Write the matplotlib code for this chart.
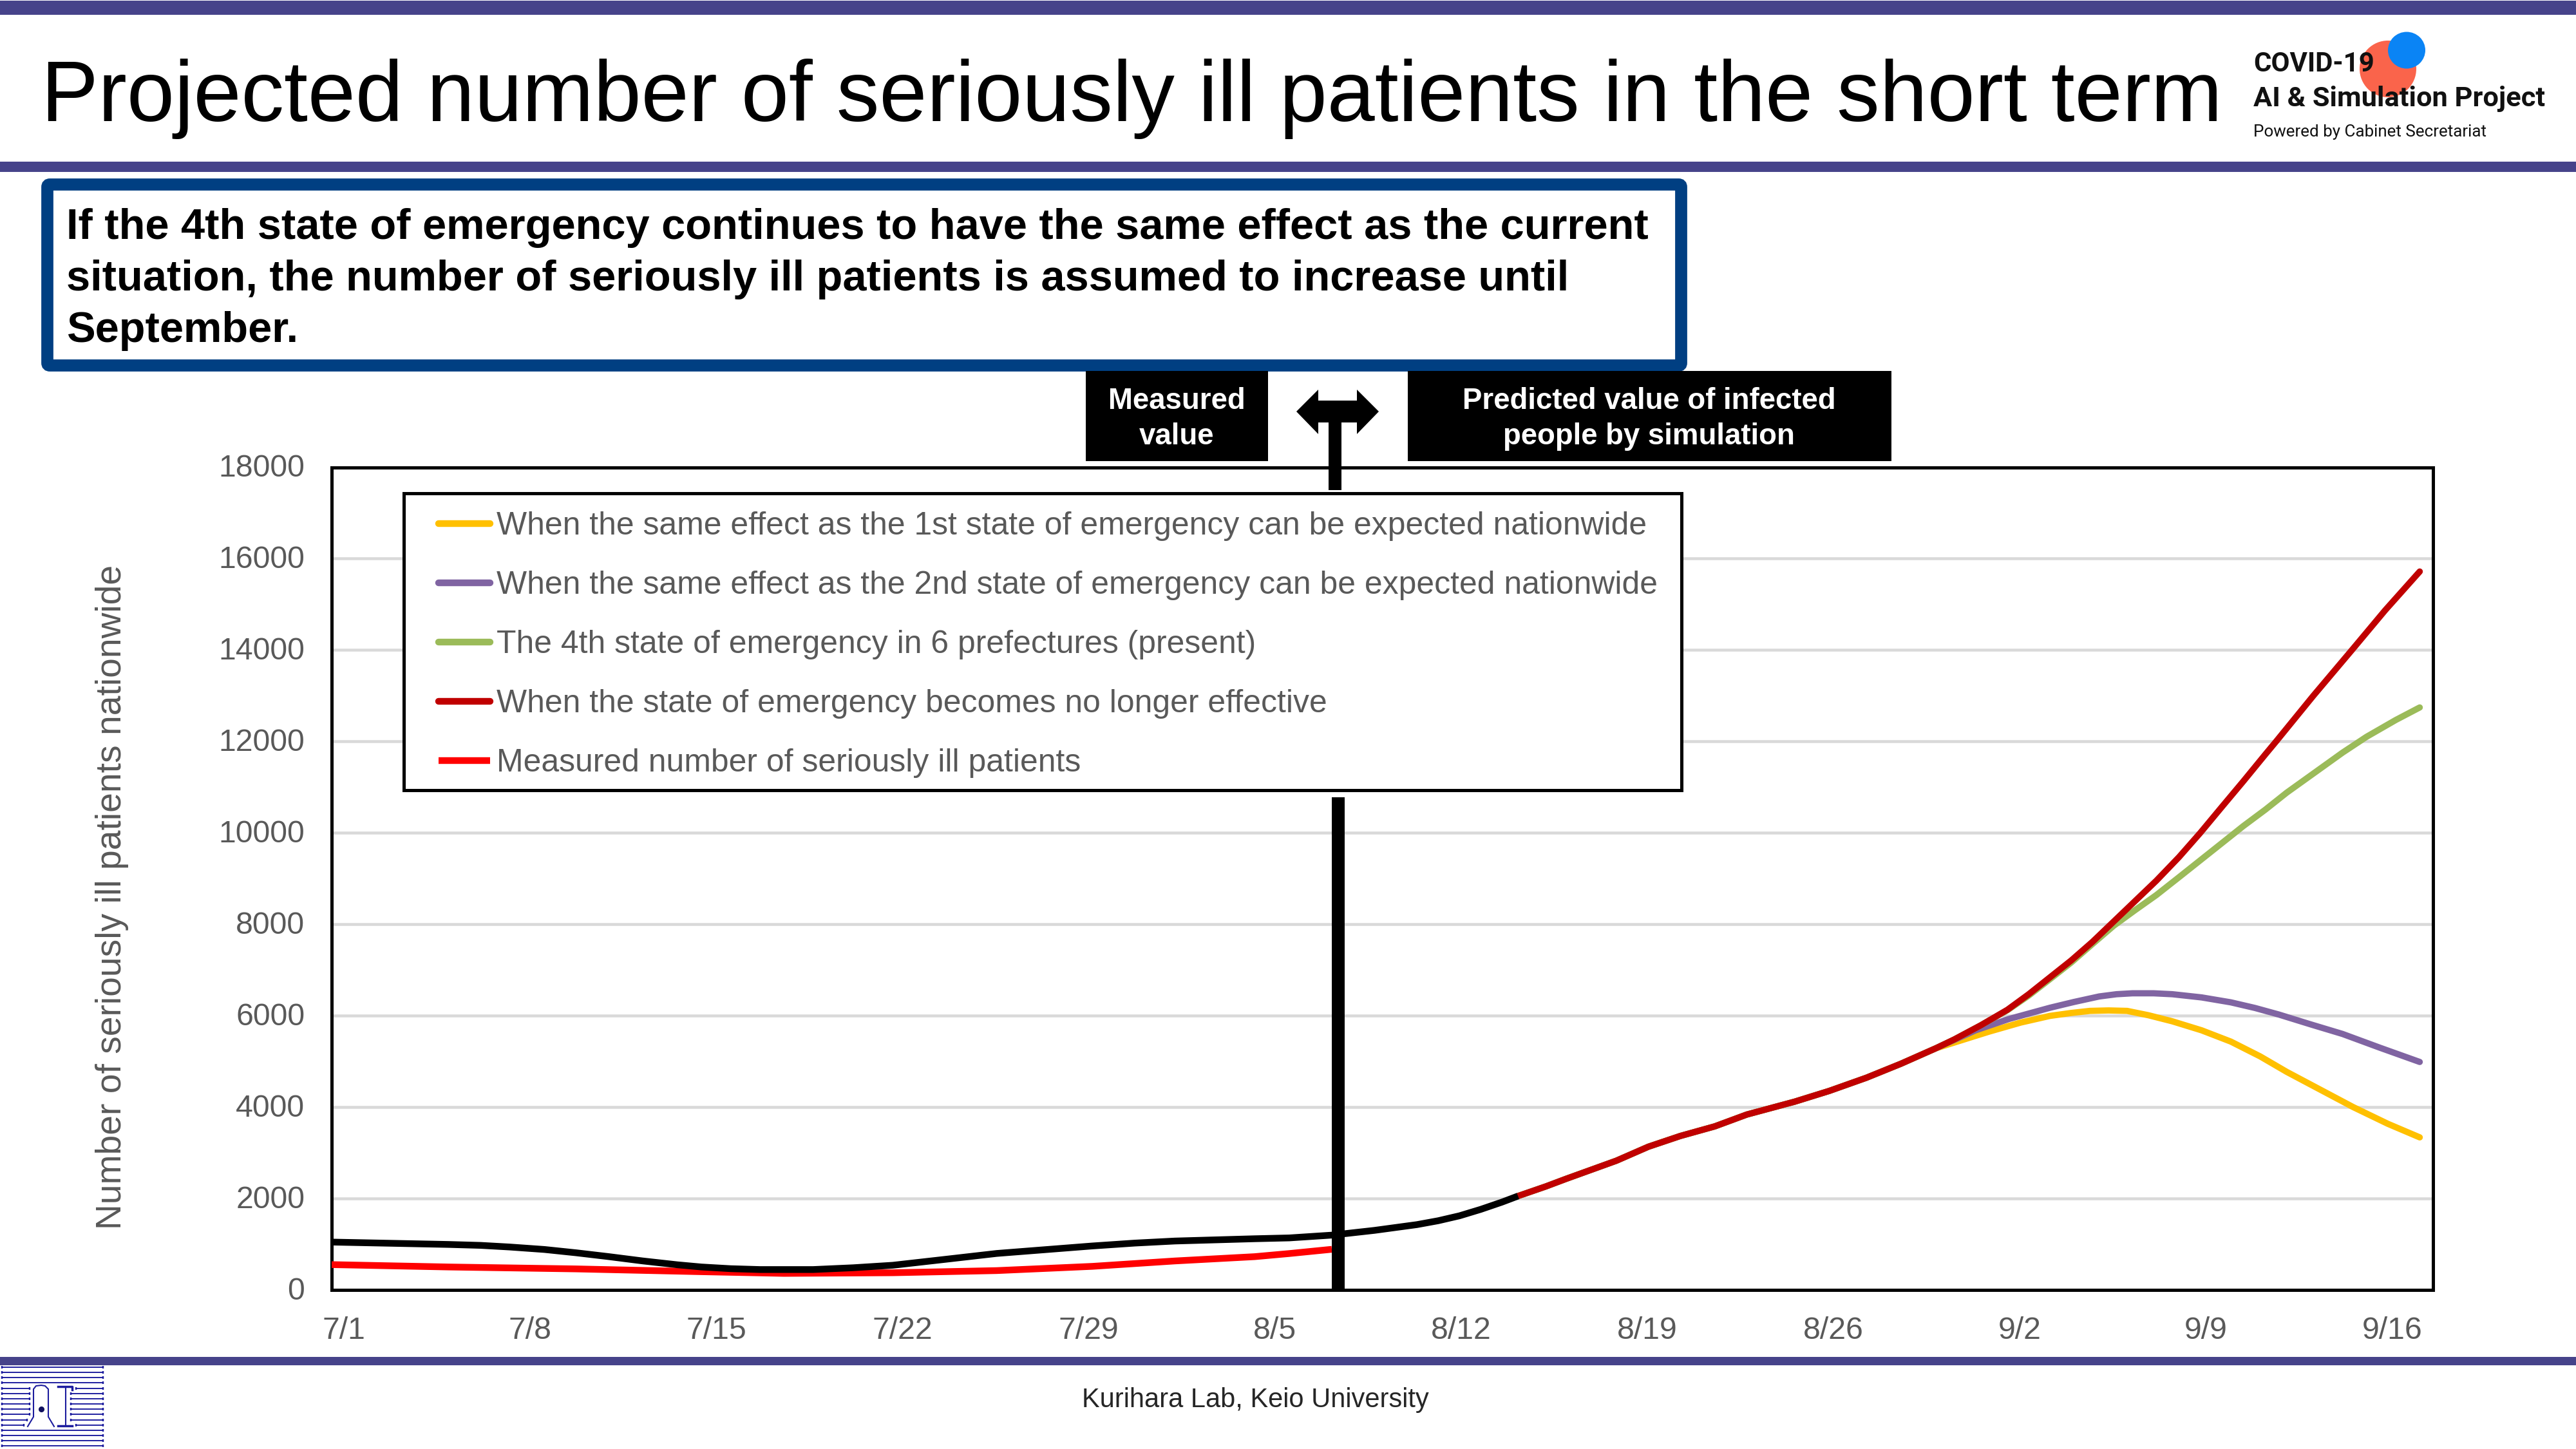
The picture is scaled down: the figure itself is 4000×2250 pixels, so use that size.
import matplotlib
matplotlib.use('Agg')
import matplotlib.pyplot as plt
from matplotlib.patches import Rectangle, Polygon, Ellipse, FancyBboxPatch
from matplotlib.transforms import ScaledTranslation

plt.rcParams['font.family'] = ['Liberation Sans', 'DejaVu Sans']

W, H = 4000, 2250
GRAY = '#595959'
BAR = '#46438A'
BOX = '#003F82'

title = 'Projected number of seriously ill patients in the short term'
summary = ['If the 4th state of emergency continues to have the same effect as the current',
           'situation, the number of seriously ill patients is assumed to increase until',
           'September.']
ylabel = 'Number of seriously ill patients nationwide'
footer = 'Kurihara Lab, Keio University'

# days counted from 7/1
tick_days = [0, 7, 14, 21, 28, 35, 42, 49, 56, 63, 70, 77]
tick_labels = ['7/1', '7/8', '7/15', '7/22', '7/29', '8/5', '8/12', '8/19', '8/26', '9/2', '9/9', '9/16']
y_ticks = [0, 2000, 4000, 6000, 8000, 10000, 12000, 14000, 16000, 18000]

labels = ['When the same effect as the 1st state of emergency can be expected nationwide',
          'When the same effect as the 2nd state of emergency can be expected nationwide',
          'The 4th state of emergency in 6 prefectures (present)',
          'When the state of emergency becomes no longer effective',
          'Measured number of seriously ill patients']

# measured
measured_days = [0, 4.4, 9.2, 13.9, 17, 21.1, 25, 28.6, 31.7, 34.7, 36, 37.6]
measured_vals = [554, 502, 460, 399, 362, 376, 423, 516, 634, 728, 796, 889]

# simulated, before the scenarios split
past_days = [0, 4.4, 5.6, 6.7, 8, 9.2, 10.4, 11.7, 13, 13.9, 15, 16.1, 18.1, 19.6, 21.1, 23, 25, 26.8, 28.6,
             30.2, 31.7, 34.7, 36, 37.6, 39.2, 40.8, 41.6, 42.4, 43.2, 44, 44.6]
past_vals = [1047, 995, 975, 939, 885, 812, 730, 634, 550, 502, 465, 446, 446, 485, 540, 665, 798, 880, 962,
             1025, 1070, 1120, 1138, 1199, 1303, 1429, 1514, 1622, 1763, 1922, 2054]

# shared part of all four scenarios
base_days = [44.6, 45.65, 46.4, 48.3, 49.5, 50.7, 52, 53.2, 55, 56.3, 57.7, 59, 60.3]
base_vals = [2054, 2265, 2429, 2828, 3133, 3368, 3579, 3837, 4119, 4354, 4643, 4950, 5285]

first_days = [62.3, 63.5, 64.6, 65.4, 66.1, 66.8, 67.5, 68.3, 69.2, 70.3, 71.4, 72.5, 73.5, 74.8, 76, 77.3, 78.5]
first_vals = [5650, 5850, 5996, 6060, 6105, 6115, 6105, 6010, 5877, 5680, 5433, 5110, 4771, 4370, 4000, 3635, 3338]

second_days = [61.8, 63.05, 64.6, 65.5, 66.45, 67.1, 67.7, 68.5, 69.2, 70.3, 71.4, 72.3, 73.2, 74.4, 75.6, 77, 78.5]
second_vals = [5680, 5927, 6174, 6300, 6421, 6470, 6490, 6490, 6470, 6400, 6292, 6170, 6026, 5810, 5600, 5300, 4988]

fourth_days = [61, 62, 63, 63.8, 64.6, 65.4, 66.2, 67, 67.8, 68.6, 69.45, 70.25, 71.05, 71.87, 72.7, 73.5, 75.6, 76.5, 77.6, 78.5]
fourth_vals = [5480, 5790, 6120, 6440, 6800, 7165, 7570, 7970, 8310, 8640, 9030, 9400, 9770, 10150, 10510, 10880, 11756, 12102, 12470, 12744]

none_days = [61, 62, 63, 63.8, 64.6, 65.4, 66.2, 67, 67.8, 68.6, 69.45, 70.25, 71.05, 71.87, 72.7, 73.1, 74.5, 75.95, 77.2, 78.5]
none_vals = [5480, 5790, 6130, 6470, 6840, 7210, 7617, 8063, 8509, 8955, 9470, 10000, 10560, 11130, 11720, 12000, 13000, 14000, 14870, 15718]

fig = plt.figure(figsize=(16, 9), dpi=250, facecolor='white')

#-------------------------------------------------------------------chart
ax = fig.add_axes([515 / W, 1 - 2003 / H, 3263 / W, 1277.5 / H])
ax.set_xlim(0, 79)
ax.set_ylim(0, 18000)

line_kw = dict(lw=2.8, solid_capstyle='round', solid_joinstyle='round')
l1, = ax.plot(base_days + first_days, base_vals + first_vals, color='#FFC000', label=labels[0], zorder=3, **line_kw)
l2, = ax.plot(base_days + second_days, base_vals + second_vals, color='#8064A2', label=labels[1], zorder=4, **line_kw)
l3, = ax.plot(base_days + fourth_days, base_vals + fourth_vals, color='#9BBB59', label=labels[2], zorder=5, **line_kw)
l4, = ax.plot(base_days + none_days, base_vals + none_vals, color='#C00000', label=labels[3], zorder=6, **line_kw)
l5, = ax.plot(measured_days, measured_vals, color='#FF0000', lw=3.0, label=labels[4], zorder=7,
              solid_capstyle='butt', solid_joinstyle='round')
ax.plot(past_days, past_vals, color='black', lw=3.0, zorder=8, solid_capstyle='butt', solid_joinstyle='round')

ax.set_xticks([d + 0.46 for d in tick_days])
ax.set_xticklabels(tick_labels)
ax.set_yticks(y_ticks)
ax.tick_params(axis='both', length=0, labelsize=13.9, labelcolor=GRAY)
ax.tick_params(axis='y', pad=12)
ax.tick_params(axis='x', pad=11.8)
up = ScaledTranslation(0, 3 / 250, fig.dpi_scale_trans)
for lab in ax.get_yticklabels():
    lab.set_transform(lab.get_transform() + up)
ax.grid(axis='y', color='#D9D9D9', lw=1.3, zorder=1)
ax.set_axisbelow(True)
for s in ax.spines.values():
    s.set_linewidth(1.45)
    s.set_color('black')

# legend frame is drawn on its own so the padding can differ per side
ax.add_patch(Rectangle((627 / W, 1 - 1227 / H), (2611 - 627) / W, (1227 - 766) / H, transform=fig.transFigure,
                       fc='white', ec='black', lw=1.45, zorder=19, clip_on=False))
leg = ax.legend(handles=[l1, l2, l3, l4, l5], loc='upper left',
                bbox_to_anchor=((681 - 515) / 3263, 1 - (794.5 - 725.5) / 1277.5),
                borderaxespad=0, borderpad=0, fontsize=14.37, labelcolor=GRAY, frameon=False,
                handlelength=1.6, handletextpad=0.2, labelspacing=0.92)
leg.set_zorder(20)
for h in leg.get_lines():
    h.set_linewidth(3.0)

#--------------------------------------------------------decoration layer
deco = fig.add_axes([0, 0, 1, 1], facecolor='none')
deco.set_xlim(0, W)
deco.set_ylim(H, 0)
deco.axis('off')

deco.add_patch(Rectangle((0, 1), W, 22, color=BAR, lw=0))
deco.add_patch(Rectangle((0, 251), W, 16, color=BAR, lw=0))
deco.add_patch(Rectangle((0, 2107), W, 13, color=BAR, lw=0))

deco.text(64, 188, title, fontsize=38.3, color='black', va='baseline', ha='left')

# logo top right
deco.add_patch(Ellipse((3708, 107), 88, 88, color='#FA644B', lw=0))
deco.add_patch(Ellipse((3737, 78), 58, 57, color='#0A84F5', lw=0))
deco.text(3499, 111, 'COVID-19', family='Roboto', weight='bold', fontsize=12.1, color='#111111', va='baseline')
deco.text(3499, 165, 'AI & Simulation Project', family='Roboto', weight='bold', fontsize=12.5, color='#111111', va='baseline')
deco.text(3499, 212, 'Powered by Cabinet Secretariat', family='Roboto', fontsize=7.5, color='#111111', va='baseline')

# summary box
deco.add_patch(FancyBboxPatch((73.5, 286.5), 2537, 281, boxstyle='round,pad=0,rounding_size=4',
                              fc='white', ec=BOX, lw=5.4))
for i, line in enumerate(summary):
    deco.text(103, 371 + 80 * i, line, fontsize=19.22, weight='bold', color='black', va='baseline')

# measured / predicted tags
deco.add_patch(Rectangle((1686, 576), 283, 140, color='black', lw=0))
deco.add_patch(Rectangle((2186, 576), 751, 140, color='black', lw=0))
deco.text(1827, 635, 'Measured', color='white', weight='bold', fontsize=13.15, ha='center', va='baseline')
deco.text(1827, 690, 'value', color='white', weight='bold', fontsize=13.15, ha='center', va='baseline')
deco.text(2561, 635, 'Predicted value of infected', color='white', weight='bold', fontsize=13.15, ha='center', va='baseline')
deco.text(2561, 690, 'people by simulation', color='white', weight='bold', fontsize=13.15, ha='center', va='baseline')

# double arrow and the measured/predicted divider
deco.add_patch(Polygon([(2013, 639), (2047, 605), (2047, 622), (2107, 622), (2107, 605), (2141, 639),
                        (2107, 674), (2107, 656), (2047, 656), (2047, 674)], closed=True, color='black', lw=0))
deco.add_patch(Rectangle((2063, 650), 20, 111, color='black', lw=0))
deco.add_patch(Rectangle((2068, 1238), 20, 765, color='black', lw=0))

# rotated axis title
deco.text(174, 1393, ylabel, rotation=90, fontsize=15.9, color=GRAY, ha='center', va='center',
          rotation_mode='anchor')

deco.text(1949, 2185, footer, fontsize=12, color='#262626', ha='center', va='baseline')

# lab logo bottom left
LAB = '#1C1C9E'
rows = [2123 + 8.15 * i for i in range(16)]
for i, y in enumerate(rows):
    if 4 <= i <= 11:
        left_end = {10: 42, 11: 37}.get(i, 46)
        right_start = 118 if i in (4, 11) else 110
        spans = [(3, left_end), (right_start, 160)]
    else:
        spans = [(3, 160)]
    for a, b in spans:
        deco.plot([a, b], [y, y], color=LAB, lw=0.55, marker='|', ms=1.4, mew=0.7)
deco.plot([43, 52, 52, 56, 64, 70, 75, 75, 84], [2215, 2200, 2157, 2152, 2151, 2152, 2157, 2200, 2215],
          color=LAB, lw=0.6)
deco.plot([90, 112, 112], [2153, 2153, 2158], color=LAB, lw=1.0)
deco.plot([102, 102], [2154, 2212], color=LAB, lw=0.6)
deco.plot([90, 112], [2214, 2214], color=LAB, lw=1.0)
deco.plot([64], [2188], marker='o', ms=1.6, color='#10105E')

fig.savefig('out.png', dpi=250, facecolor='white')
